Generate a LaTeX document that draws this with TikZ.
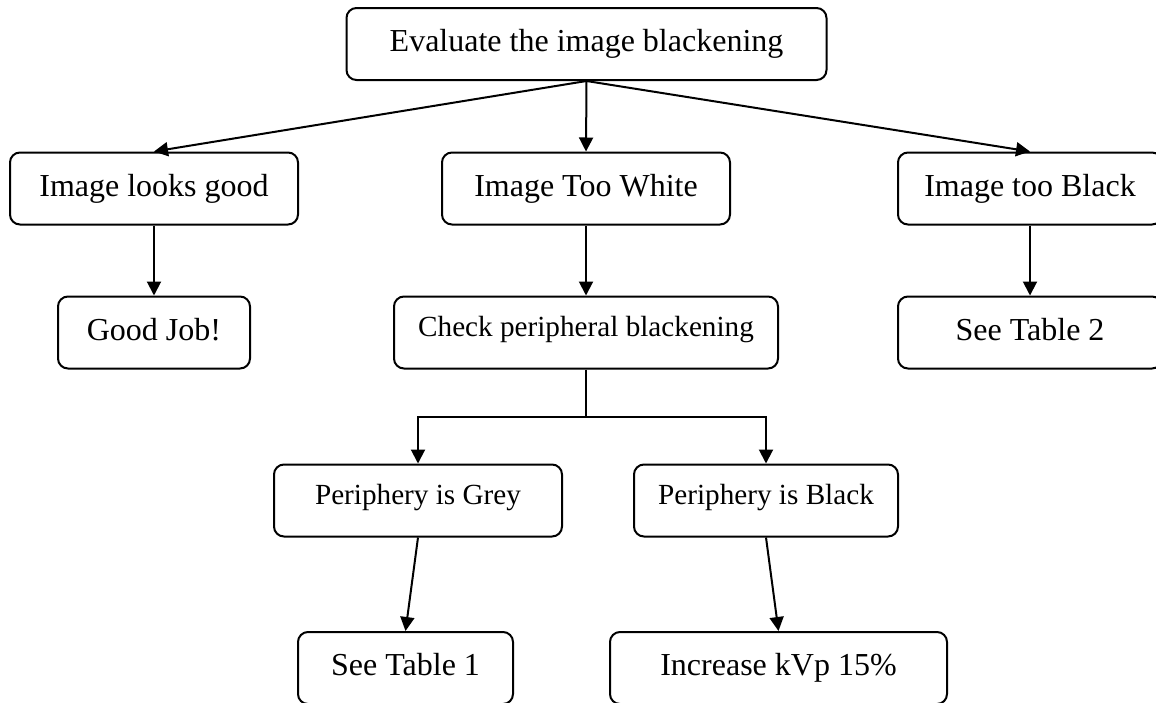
\documentclass[tikz,border=0pt]{standalone}
\usepackage{fontspec}
\setmainfont{Liberation Serif}
\usetikzlibrary{arrows.meta}

\begin{document}
\begin{tikzpicture}[x=0.5pt, y=-0.5pt,
    box/.style={draw, line width=1pt, rounded corners=5pt, minimum height=36pt,
        inner sep=0pt, text height=11.2pt, text depth=3.5pt,
        font=\fontsize{16}{19}\selectfont},
    smallbox/.style={box, text height=6.7pt, text depth=3.2pt,
        font=\fontsize{14.6}{17}\selectfont},
    arr/.style={line width=1pt, -{Triangle[length=7pt,width=7pt]}}]
    % Fundo branco
    \useasboundingbox (0,0) rectangle (1156,702);
    \fill[white] (0,0) rectangle (1156,702);

    % Caixa do topo
    \node[box, minimum width=240pt] (eval) at (586.5,44) {Evaluate the image blackening};

    % Segunda linha
    \node[box, minimum width=144pt] (good) at (154,188.5) {Image looks good};
    \node[box, minimum width=144pt] (white) at (586,188.5) {Image Too White};
    \node[box, minimum width=132pt] (black) at (1030,188.5) {Image too Black};

    % Terceira linha
    \node[box, minimum width=96pt] (job) at (154,332.5) {Good Job!};
    \node[smallbox, minimum width=192pt] (check) at (586,332.5) {Check peripheral blackening};
    \node[box, minimum width=132pt] (tabtwo) at (1030,332.5) {See Table 2};

    % Periferia
    \node[smallbox, minimum width=144pt] (grey) at (418,500.5) {Periphery is Grey};
    \node[smallbox, minimum width=132pt] (blackp) at (766,500.5) {Periphery is Black};

    % Ultima linha
    \node[box, minimum width=107.5pt] (tabone) at (405.5,668) {See Table 1};
    \node[box, minimum width=168.5pt] (kvp) at (778.5,668) {Increase kVp 15\%};

    % Setas do topo
    \draw[arr] (eval.south) -- (good.north);
    \draw[arr] (eval.south) -- (white.north);
    \draw[arr] (eval.south) -- (black.north);

    % Setas verticais
    \draw[arr] (good) -- (job);
    \draw[arr] (white) -- (check);
    \draw[arr] (black) -- (tabtwo);

    % Ramificacao da periferia
    \coordinate (split) at (586,417);
    \draw[line width=1pt] (check.south) -- (split);
    \draw[arr] (split) -| (grey.north);
    \draw[arr] (split) -| (blackp.north);

    % Setas finais
    \draw[arr] (grey.south) -- (tabone.north);
    \draw[arr] (blackp.south) -- (kvp.north);
\end{tikzpicture}
\end{document}
